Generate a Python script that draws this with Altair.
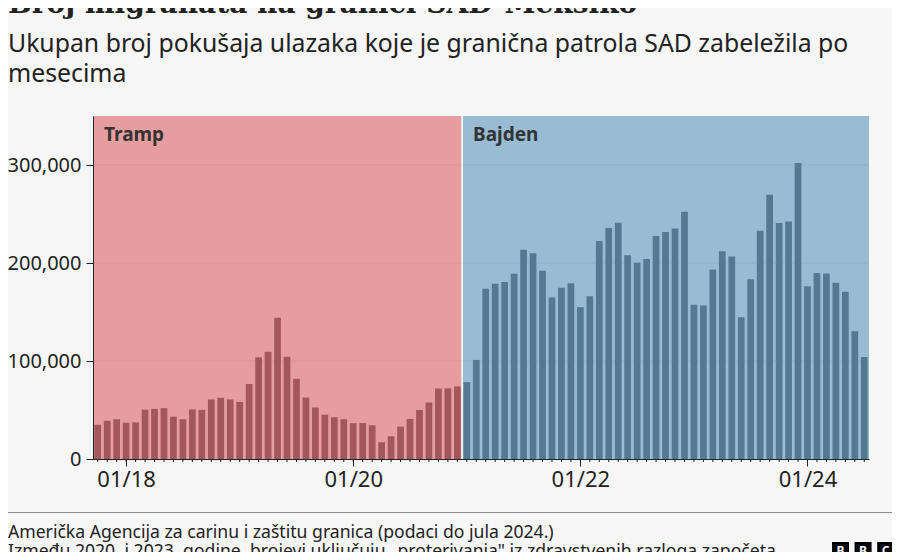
import altair as alt
import pandas as pd

# ---------------- data ----------------
start_month = "2017-10"
values = [34871, 39051, 40519, 37002, 37390, 50347, 51168, 51862, 43180, 40536, 50568, 50180,
          60745, 62469, 60782, 58317, 76545, 103731, 109415, 144116, 104311, 81777, 62707, 52546,
          45139, 42643, 40565, 36585, 36687, 34460, 17106, 23237, 33049, 40929, 50014, 57674,
          71929, 72113, 73994, 78414, 101099, 173686, 178795, 180597, 189034, 213593, 209840, 192001,
          164837, 174845, 179253, 154874, 166010, 222574, 235785, 241136, 207834, 200162, 204087, 227547,
          231529, 235173, 252315, 157358, 156630, 193249, 211992, 206690, 144556, 183503, 232963, 269735,
          240925, 242399, 301983, 176205, 189913, 189359, 179737, 170716, 130415, 104101]

periods = ["Tramp", "Bajden"]
period_start = ["2017-10", "2021-01"]
period_end = ["2020-12", "2024-07"]

y_ticks = [0, 100000, 200000, 300000]
x_tick_months = ["2018-01", "2020-01", "2022-01", "2024-01"]
x_tick_labels = ["01/18", "01/20", "01/22", "01/24"]

title = "Broj migranata na granici SAD-Meksiko"
subtitle = ["Ukupan broj pokušaja ulazaka koje je granična patrola SAD zabeležila po",
            "mesecima"]
footer = ["Američka Agencija za carinu i zaštitu granica (podaci do jula 2024.)",
          "Između 2020. i 2023. godine, brojevi uključuju „proterivanja\" iz zdravstvenih razloga započeta"]

# ---------------- tables ----------------
months = [str(p) for p in pd.period_range(start_month, periods=len(values), freq="M")]
mi = {m: i for i, m in enumerate(months)}

def period_of(m):
    for p, s, e in zip(periods, period_start, period_end):
        if s <= m <= e:
            return p
    return periods[-1]

df = pd.DataFrame({"month": months, "idx": range(len(values)), "value": values,
                   "period": [period_of(m) for m in months]})
pdf = pd.DataFrame({"period": periods,
                    "s": [mi[s] for s in period_start],
                    "e": [mi[e] for e in period_end]})
gdf = pd.DataFrame({"y": y_ticks[1:]})
one = pd.DataFrame({"a": [0]})

tick_idx = [mi[m] for m in x_tick_months]
label_expr = " : ".join(f"datum.value == {i} ? '{l}'" for i, l in zip(tick_idx, x_tick_labels)) + " : ''"

# ---------------- styling ----------------
W, H = 776, 343
FONT = "Noto Sans"
INK = "#222222"
BG_COLORS = ["#e69d9f", "#98bcd4"]
BAR_COLORS = ["#a3575b", "#547992"]

xs = alt.Scale(domain=[-0.5, len(values) - 0.5], nice=False, zero=False)
ys = alt.Scale(domain=[0, 350000], nice=False)

x_axis = alt.Axis(values=tick_idx, labelExpr=label_expr, tickSize=7, tickColor=INK,
                  domainColor=INK, grid=False, labelFont=FONT, labelFontSize=22,
                  labelColor=INK, labelPadding=3, zindex=1, title=None)
y_axis = alt.Axis(values=y_ticks, labelExpr="format(datum.value, ',')", tickSize=7,
                  tickColor=INK, domainColor=INK, grid=False, labelFont=FONT,
                  labelFontSize=20, labelColor=INK, labelPadding=5, zindex=1, title=None)

backgrounds = alt.Chart(pdf).transform_calculate(
    x1="datum.s - 0.5", x2="datum.e + 0.5", y0="0"
).mark_rect().encode(
    x=alt.X("x1:Q", scale=xs, axis=x_axis),
    x2="x2:Q",
    y=alt.Y("y0:Q", scale=ys, axis=y_axis),
    y2=alt.datum(350000),
    fill=alt.Fill("period:N", scale=alt.Scale(domain=periods, range=BG_COLORS), legend=None),
)

grid = alt.Chart(gdf).mark_rule(color="#000000", opacity=0.05, strokeWidth=1).encode(
    y=alt.Y("y:Q", scale=ys, axis=y_axis)
)

separator = alt.Chart(pdf).transform_filter("datum.s > 0").transform_calculate(
    xb="datum.s - 0.5"
).mark_rule(color="#ffffff", strokeWidth=1.5).encode(
    x=alt.X("xb:Q", scale=xs, axis=x_axis), y=alt.value(0), y2=alt.value(H)
)

bars = alt.Chart(df).transform_calculate(
    x1="datum.idx - 0.355", x2="datum.idx + 0.355"
).mark_bar().encode(
    x=alt.X("x1:Q", scale=xs, axis=x_axis),
    x2="x2:Q",
    y=alt.Y("value:Q", scale=ys, axis=y_axis),
    y2=alt.datum(0),
    color=alt.Color("period:N", scale=alt.Scale(domain=periods, range=BAR_COLORS), legend=None),
)

month_ticks = alt.Chart(df).mark_rule(color=INK, strokeWidth=1).encode(
    x=alt.X("idx:Q", scale=xs, axis=x_axis), y=alt.value(H), y2=alt.value(H + 3)
)

period_labels = alt.Chart(pdf).transform_calculate(x1="datum.s - 0.5").mark_text(
    align="left", baseline="alphabetic", dx=11, font=FONT, fontSize=19, fontWeight="bold",
    color="#333333"
).encode(x=alt.X("x1:Q", scale=xs, axis=x_axis), y=alt.value(25), text="period:N")


def txt(text, x, y, size, weight="normal", font=FONT, color=INK):
    return alt.Chart(one).mark_text(text=text, align="left", baseline="alphabetic",
                                    fontSize=size, fontWeight=weight, font=font,
                                    color=color).encode(x=alt.value(x), y=alt.value(y))


texts = [
    txt(title, -85, -103, 28, "bold", "DejaVu Serif"),
    txt(subtitle[0], -85, -64, 24.8),
    txt(subtitle[1], -85, -34, 24.8),
    txt(footer[0], -85, 422, 17.6),
    txt(footer[1], -85, 441, 17.6),
]

rule_footer = alt.Chart(one).mark_rule(color="#8c8c8c", strokeWidth=1).encode(
    x=alt.value(-85), x2=alt.value(799), y=alt.value(396.5)
)

logo = []
for k, letter in enumerate(["B", "B", "C"]):
    x0 = 739 + k * 22.6
    logo.append(alt.Chart(one).mark_rect(color="#000000").encode(
        x=alt.value(x0), x2=alt.value(x0 + 17), y=alt.value(426), y2=alt.value(443)))
    logo.append(alt.Chart(one).mark_text(text=letter, color="#ffffff", fontSize=12,
                                         fontWeight="bold", font=FONT, align="center",
                                         baseline="middle").encode(
        x=alt.value(x0 + 8.5), y=alt.value(435)))

chart = alt.layer(
    backgrounds, grid, separator, bars, month_ticks, period_labels, rule_footer, *texts, *logo
).properties(
    width=W, height=H,
    autosize=alt.AutoSizeParams(type="none"),
    padding={"left": 85, "top": 108, "right": 23, "bottom": 93},
).configure(background="#f6f6f6").configure_view(stroke=None)

chart.save("out.html", embed_options={"renderer": "svg", "actions": False})
